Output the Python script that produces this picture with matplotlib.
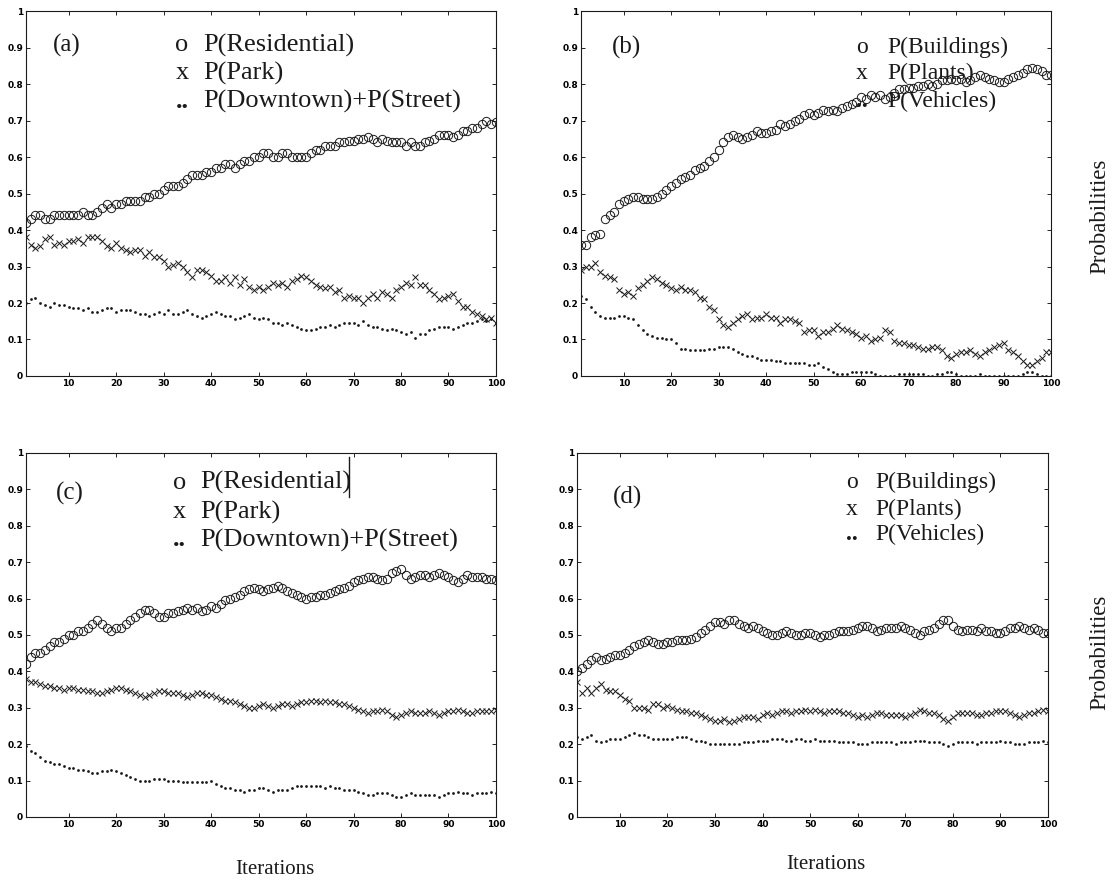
import numpy as np
import matplotlib
matplotlib.use("Agg")
import matplotlib.pyplot as plt

iterations = np.arange(1, 101)

# (a) scene classes, run 1
res_a = [.42, .43, .44, .44, .43, .43, .44, .44, .44, .44,
         .44, .44, .45, .44, .44, .45, .46, .47, .46, .47,
         .47, .48, .48, .48, .48, .49, .49, .50, .50, .51,
         .52, .52, .52, .53, .54, .55, .55, .55, .56, .56,
         .57, .57, .58, .58, .57, .58, .59, .59, .60, .60,
         .61, .61, .60, .60, .61, .61, .60, .60, .60, .60,
         .61, .62, .62, .63, .63, .63, .64, .64, .645, .645,
         .65, .65, .655, .65, .64, .65, .645, .64, .64, .64,
         .63, .64, .63, .63, .64, .645, .65, .66, .66, .66,
         .655, .66, .67, .67, .68, .68, .69, .70, .69, .695]
park_a = [.38, .36, .35, .355, .375, .38, .36, .365, .36, .37,
          .37, .375, .365, .38, .38, .38, .37, .355, .35, .365,
          .35, .345, .34, .345, .345, .33, .34, .325, .325, .315,
          .30, .305, .31, .30, .285, .27, .29, .29, .285, .275,
          .26, .26, .27, .255, .27, .25, .265, .245, .235, .245,
          .235, .245, .255, .25, .255, .245, .26, .265, .275, .27,
          .26, .25, .245, .24, .245, .23, .235, .215, .22, .215,
          .215, .20, .215, .225, .215, .23, .225, .215, .235, .245,
          .255, .25, .27, .25, .25, .235, .225, .21, .215, .22,
          .225, .205, .19, .19, .175, .17, .165, .155, .16, .145]
street_a = [.20, .21, .215, .20, .195, .19, .20, .195, .195, .19,
            .185, .185, .18, .185, .175, .175, .18, .185, .185, .175,
            .18, .18, .18, .175, .17, .17, .165, .17, .175, .17,
            .18, .17, .17, .175, .18, .17, .165, .16, .165, .17,
            .175, .17, .165, .165, .155, .16, .165, .17, .16, .155,
            .16, .155, .145, .145, .14, .145, .14, .135, .13, .125,
            .125, .13, .135, .135, .14, .135, .14, .145, .145, .145,
            .14, .15, .14, .135, .135, .13, .125, .13, .125, .12,
            .115, .12, .105, .115, .115, .125, .13, .135, .135, .135,
            .13, .135, .14, .145, .145, .15, .155, .15, .155, .145]

# (b) object classes, run 1
bld_b = [.36, .36, .38, .385, .39, .43, .44, .45, .47, .48,
         .485, .49, .49, .485, .485, .485, .49, .50, .51, .52,
         .53, .54, .545, .55, .565, .57, .575, .59, .60, .62,
         .64, .655, .66, .655, .65, .655, .66, .67, .665, .665,
         .67, .675, .69, .685, .69, .70, .705, .715, .72, .715,
         .72, .73, .725, .73, .725, .735, .74, .745, .75, .765,
         .76, .77, .765, .77, .76, .765, .775, .785, .785, .79,
         .79, .795, .795, .80, .795, .80, .81, .81, .815, .81,
         .815, .805, .81, .82, .825, .82, .815, .81, .805, .805,
         .815, .82, .825, .83, .84, .845, .84, .835, .825, .825]
plants_b = [.29, .30, .30, .31, .285, .275, .27, .265, .235, .225,
            .23, .22, .24, .25, .26, .27, .265, .255, .25, .24,
            .235, .245, .235, .235, .23, .215, .21, .19, .18, .155,
            .14, .135, .145, .155, .165, .17, .155, .16, .16, .17,
            .16, .16, .145, .155, .155, .15, .145, .12, .125, .125,
            .11, .12, .12, .13, .14, .13, .125, .12, .115, .105,
            .11, .095, .10, .105, .125, .12, .095, .09, .09, .085,
            .085, .08, .075, .075, .08, .08, .07, .055, .05, .06,
            .065, .065, .07, .06, .055, .065, .07, .08, .085, .09,
            .07, .065, .055, .04, .03, .03, .04, .05, .065, .065]
veh_b = [.22, .21, .19, .175, .165, .16, .16, .16, .165, .165,
         .16, .155, .14, .125, .115, .11, .105, .105, .10, .10,
         .09, .075, .075, .07, .07, .07, .07, .075, .075, .08,
         .08, .08, .075, .065, .06, .055, .055, .05, .045, .045,
         .045, .04, .04, .035, .035, .035, .035, .035, .03, .03,
         .035, .025, .02, .01, .005, .005, .005, .01, .01, .01,
         .01, .01, .005, 0, 0, 0, 0, .005, .005, .005,
         .005, .005, .005, 0, 0, .005, .005, .01, .01, .005,
         0, 0, 0, 0, .005, 0, 0, 0, 0, 0,
         0, 0, 0, .005, .01, .01, .005, 0, 0, 0]

# (c) scene classes, run 2
res_c = [.42, .44, .45, .45, .46, .47, .48, .48, .49, .50,
         .50, .51, .51, .52, .53, .54, .53, .52, .51, .52,
         .52, .53, .54, .55, .56, .57, .57, .56, .55, .55,
         .56, .56, .565, .57, .575, .57, .575, .565, .57, .58,
         .575, .585, .595, .60, .605, .61, .62, .625, .63, .625,
         .62, .625, .63, .635, .63, .62, .615, .61, .605, .60,
         .605, .605, .61, .61, .615, .62, .625, .63, .635, .645,
         .65, .655, .66, .66, .655, .65, .655, .67, .675, .68,
         .665, .655, .66, .665, .665, .66, .665, .67, .665, .66,
         .65, .645, .655, .665, .66, .66, .66, .655, .655, .65]
park_c = [.38, .37, .37, .365, .36, .36, .355, .355, .35, .355,
          .355, .35, .35, .345, .345, .34, .34, .345, .35, .355,
          .355, .35, .345, .34, .335, .33, .335, .34, .345, .345,
          .34, .34, .34, .335, .33, .335, .34, .34, .335, .335,
          .33, .325, .32, .32, .315, .31, .305, .30, .30, .305,
          .31, .305, .30, .305, .31, .31, .305, .31, .315, .315,
          .32, .32, .315, .32, .315, .315, .31, .31, .305, .30,
          .295, .29, .285, .29, .29, .295, .29, .28, .275, .28,
          .285, .29, .285, .285, .285, .29, .285, .28, .285, .29,
          .29, .295, .29, .285, .285, .29, .29, .29, .29, .295]
street_c = [.195, .18, .175, .165, .155, .15, .145, .145, .14, .135,
            .135, .13, .13, .125, .12, .12, .125, .125, .13, .125,
            .12, .115, .11, .105, .10, .10, .10, .105, .105, .105,
            .10, .10, .10, .095, .095, .095, .095, .095, .095, .10,
            .09, .085, .08, .08, .075, .075, .07, .075, .075, .08,
            .08, .075, .07, .075, .075, .075, .08, .085, .085, .085,
            .085, .085, .085, .08, .085, .08, .08, .075, .075, .075,
            .07, .065, .06, .06, .065, .065, .065, .06, .055, .055,
            .06, .065, .06, .06, .06, .06, .06, .055, .06, .065,
            .065, .07, .065, .065, .06, .065, .065, .065, .07, .065]

# (d) object classes, run 2
bld_d = [.40, .41, .42, .43, .44, .43, .435, .44, .445, .445,
         .45, .46, .47, .475, .48, .485, .48, .475, .475, .48,
         .48, .485, .485, .485, .49, .495, .505, .515, .525, .535,
         .535, .53, .54, .54, .53, .525, .52, .525, .52, .51,
         .505, .50, .50, .505, .51, .505, .50, .50, .505, .505,
         .50, .495, .50, .50, .505, .51, .51, .51, .515, .52,
         .525, .525, .52, .51, .515, .52, .52, .52, .525, .52,
         .515, .505, .50, .51, .515, .52, .53, .54, .54, .525,
         .515, .51, .515, .515, .51, .52, .51, .51, .505, .505,
         .51, .52, .52, .525, .52, .515, .52, .515, .505, .505]
plants_d = [.37, .34, .355, .34, .355, .365, .35, .345, .345, .335,
            .325, .32, .30, .30, .30, .295, .31, .31, .30, .305,
            .30, .295, .29, .29, .285, .285, .28, .275, .27, .265,
            .265, .27, .26, .265, .27, .275, .275, .275, .27, .28,
            .285, .28, .285, .29, .29, .285, .29, .29, .295, .29,
            .295, .29, .285, .29, .29, .29, .285, .285, .28, .275,
            .28, .275, .28, .285, .285, .28, .28, .28, .28, .275,
            .28, .285, .295, .29, .285, .285, .28, .27, .265, .275,
            .285, .285, .285, .285, .28, .28, .285, .285, .29, .29,
            .29, .285, .28, .275, .28, .285, .285, .29, .295, .29]
veh_d = [.22, .215, .22, .225, .21, .205, .21, .215, .215, .215,
         .22, .225, .23, .225, .225, .22, .215, .215, .215, .215,
         .215, .22, .22, .22, .215, .21, .21, .205, .20, .20,
         .20, .20, .20, .20, .20, .205, .205, .205, .21, .21,
         .21, .215, .215, .215, .21, .21, .215, .215, .21, .21,
         .215, .21, .21, .21, .21, .205, .205, .205, .205, .20,
         .20, .20, .205, .205, .205, .205, .205, .20, .205, .205,
         .205, .21, .21, .21, .205, .205, .205, .20, .195, .20,
         .205, .205, .205, .205, .20, .205, .205, .205, .205, .21,
         .205, .205, .20, .20, .20, .205, .205, .205, .21, .205]

scene_labels = ["P(Residential)", "P(Park)", "P(Downtown)+P(Street)"]
object_labels = ["P(Buildings)", "P(Plants)", "P(Vehicles)"]
x_ticks = [10, 20, 30, 40, 50, 60, 70, 80, 90, 100]
y_ticks = [0, 0.1, 0.2, 0.3, 0.4, 0.5, 0.6, 0.7, 0.8, 0.9, 1]
y_tick_labels = ["0", "0.1", "0.2", "0.3", "0.4", "0.5", "0.6", "0.7", "0.8", "0.9", "1"]

serif = "Liberation Serif"
ink = "#1a1a1a"

fig = plt.figure(figsize=(11.15, 8.82), dpi=100)
fig.patch.set_facecolor("white")

# axes boxes in figure fractions
boxes = {
    "a": [0.0233, 0.5737, 0.4215, 0.4138],
    "b": [0.5211, 0.5737, 0.4215, 0.4138],
    "c": [0.0233, 0.0737, 0.4215, 0.4127],
    "d": [0.5175, 0.0737, 0.4224, 0.4127],
}

# key, series, key labels, tag position, key x (symbol, text), key rows, key font size
panels = [
    ("a", res_a, park_a, street_a, scene_labels,
     (0.087, 0.907), (0.332, 0.377), [0.907, 0.830, 0.751], 19),
    ("b", bld_b, plants_b, veh_b, object_labels,
     (0.096, 0.901), (0.598, 0.651), [0.901, 0.830, 0.751], 17),
    ("c", res_c, park_c, street_c, scene_labels,
     (0.094, 0.890), (0.326, 0.370), [0.918, 0.838, 0.761], 19),
    ("d", bld_d, plants_d, veh_d, object_labels,
     (0.108, 0.879), (0.584, 0.633), [0.918, 0.846, 0.775], 17),
]

for key, s1, s2, s3, labels, tag_xy, leg_x, leg_y, fs in panels:
    ax = fig.add_axes(boxes[key])
    ax.plot(iterations, s1, linestyle="none", marker="o", ms=6,
            mfc="none", mec=ink, mew=0.7)
    ax.plot(iterations, s2, linestyle="none", marker="x", ms=3.8,
            color=ink, mew=0.7)
    ax.plot(iterations, s3, linestyle="none", marker="o", ms=2,
            color=ink, mew=0)

    ax.set_xlim(1, 100)
    ax.set_ylim(0, 1)
    ax.set_xticks(x_ticks)
    ax.set_xticklabels([str(t) for t in x_ticks])
    ax.set_yticks(y_ticks)
    ax.set_yticklabels(y_tick_labels)
    ax.tick_params(direction="in", length=3, width=0.6, top=True, right=True,
                   labelsize=6.5, pad=2)
    for lab in ax.get_xticklabels() + ax.get_yticklabels():
        lab.set_fontweight("bold")
    for sp in ax.spines.values():
        sp.set_linewidth(0.8)
        sp.set_color(ink)

    # panel tag and the hand-made key
    ax.text(tag_xy[0], tag_xy[1], "(%s)" % key, transform=ax.transAxes,
            family=serif, fontsize=18, ha="center", va="center", color=ink)
    symbols = ["o", "x", ".."]
    for sym, lab, yy in zip(symbols, labels, leg_y):
        ax.text(leg_x[0], yy, sym, transform=ax.transAxes, family=serif,
                fontsize=fs, ha="center", va="center", color=ink,
                fontweight="bold" if sym == ".." else "normal")
        ax.text(leg_x[1], yy, lab, transform=ax.transAxes, family=serif,
                fontsize=fs, ha="left", va="center", color=ink)

    if key == "c":
        ax.plot([0.687, 0.687], [0.879, 0.988], transform=ax.transAxes,
                color=ink, lw=1.0)

fig.text(0.9865, 0.755, "Probabilities", rotation=90, family=serif,
         fontsize=16.5, ha="center", va="center", color=ink)
fig.text(0.9865, 0.260, "Probabilities", rotation=90, family=serif,
         fontsize=16.5, ha="center", va="center", color=ink)
fig.text(0.2466, 0.0147, "Iterations", family=serif, fontsize=15,
         ha="center", va="center", color=ink)
fig.text(0.7408, 0.0204, "Iterations", family=serif, fontsize=15,
         ha="center", va="center", color=ink)

fig.savefig("out.png", dpi=100)
